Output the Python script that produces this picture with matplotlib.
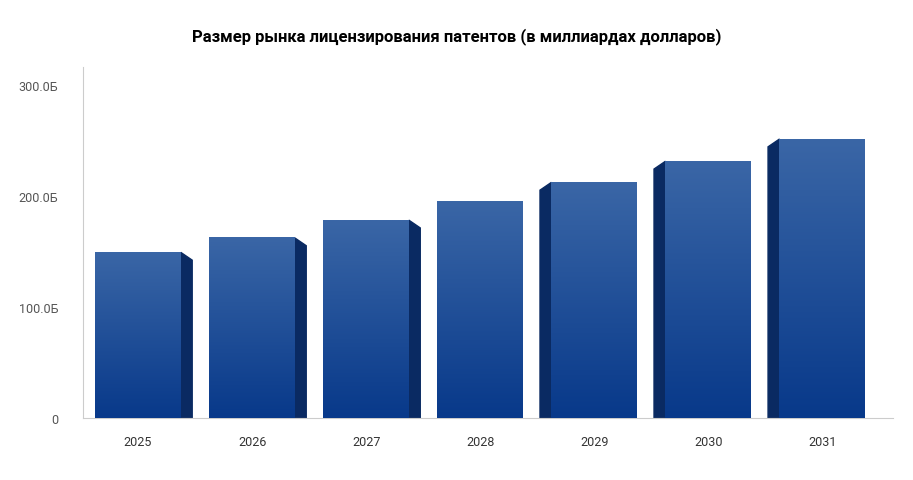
import numpy as np
import matplotlib.pyplot as plt
from matplotlib.patches import Polygon
from matplotlib.colors import LinearSegmentedColormap

plt.rcParams['font.family'] = 'Roboto'

# Данные (млрд долларов)
years = ['2025', '2026', '2027', '2028', '2029', '2030', '2031']
values = [149, 162, 178, 195, 212, 231, 251]
tick_vals = [0, 100, 200, 300]
tick_labels = ['0', '100.0Б', '200.0Б', '300.0Б']

fig = plt.figure(figsize=(9.13, 4.81), dpi=100)
ax = fig.add_axes([0.091, 0.129, 0.887, 0.73])

grad = LinearSegmentedColormap.from_list('g', ['#08398a', '#3a66a6'])
width = 0.75
depth = 0.1
drop = 7

for i, v in enumerate(values):
    x0, x1 = i - width / 2, i + width / 2
    # боковая грань
    if i < 3:
        pts = [(x1, v), (x1 + depth, v - drop), (x1 + depth, 0), (x1, 0)]
    elif i > 3:
        pts = [(x0, v), (x0 - depth, v - drop), (x0 - depth, 0), (x0, 0)]
    else:
        pts = None
    if pts:
        ax.add_patch(Polygon(pts, closed=True, color='#0a2a62', zorder=2))
    # передняя грань с градиентом
    ax.imshow(np.linspace(0, 1, 100).reshape(-1, 1), cmap=grad, origin='lower',
              extent=[x0, x1, 0, v], aspect='auto', zorder=3)

ax.set_xlim(-0.482, 6.62)
ax.set_ylim(0, 316)
ax.set_xticks(range(len(years)))
ax.set_xticklabels(years, fontsize=9, color='#333333')
ax.set_yticks(tick_vals)
ax.set_yticklabels(tick_labels, fontsize=9, color='#555555')
ax.tick_params(length=0, pad=12)
ax.tick_params(axis='y', pad=18)
for s in ['top', 'right']:
    ax.spines[s].set_visible(False)
for s in ['left', 'bottom']:
    ax.spines[s].set_color('#cccccc')

fig.text(0.5, 0.915, 'Размер рынка лицензирования патентов (в миллиардах долларов)',
         ha='center', fontsize=12, fontweight='bold')

fig.savefig('out.png', dpi=100)
